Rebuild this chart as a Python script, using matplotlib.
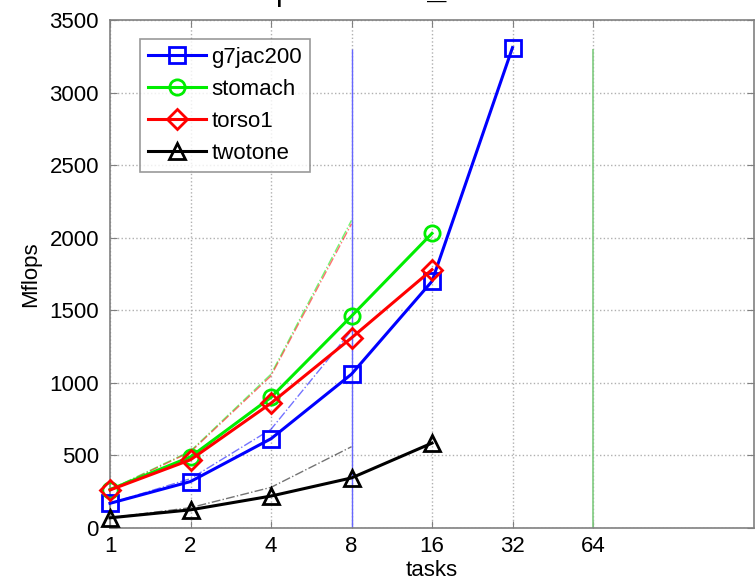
import matplotlib
matplotlib.use("Agg")
import matplotlib.pyplot as plt
from matplotlib.ticker import FixedLocator, FixedFormatter

plt.rcParams['font.family'] = ['Liberation Sans', 'DejaVu Sans']

# Measured performance (Mflops) against number of tasks
tasks = [1, 2, 4, 8, 16, 32]
g7jac200 = [170, 320, 615, 1060, 1700, 3310]
stomach = [265, 490, 900, 1460, 2030]
torso1 = [262, 470, 860, 1310, 1780]
twotone = [70, 125, 220, 345, 585]

# Ideal (linear) scaling drawn up to 8 tasks
ideal_tasks = [1, 2, 4, 8]

# Vertical reference markers
ref_tasks = [8, 64]
ref_top = 3300

xticks = [1, 2, 4, 8, 16, 32, 64]
yticks = [0, 500, 1000, 1500, 2000, 2500, 3000, 3500]

fig = plt.figure(figsize=(7.55, 5.82), dpi=100)
ax = fig.add_axes([0.1457, 0.0928, 0.853, 0.8728])

series = [
    ("g7jac200", g7jac200, "blue", "s"),
    ("stomach", stomach, "#00ee00", "o"),
    ("torso1", torso1, "red", "D"),
    ("twotone", twotone, "black", "^"),
]

# ideal scaling lines
for name, vals, col, mk in series:
    ideal = [vals[0] * t for t in ideal_tasks]
    ax.plot(ideal_tasks, ideal, linestyle='-.', color=col, lw=1.0, alpha=0.55, zorder=2)

ax.vlines(ref_tasks[0], 0, ref_top, color='#6666ff', lw=1.0, zorder=2)
ax.vlines(ref_tasks[1], 0, ref_top, color='#80cc80', lw=1.2, zorder=2)

handles = []
for name, vals, col, mk in series:
    ms = 11 if mk != 'D' else 10
    h, = ax.plot(tasks[:len(vals)], vals, color=col, lw=2.2, marker=mk,
                 markersize=ms, markerfacecolor='none', markeredgecolor=col,
                 markeredgewidth=2.0, label=name, zorder=3, clip_on=False)
    handles.append(h)

ax.set_xscale('log', base=2)
ax.set_xlim(1, 256)
ax.set_ylim(0, 3500)
ax.xaxis.set_major_locator(FixedLocator(xticks))
ax.xaxis.set_major_formatter(FixedFormatter([str(t) for t in xticks]))
ax.xaxis.set_minor_locator(FixedLocator([]))
ax.set_yticks(yticks)
ax.set_yticklabels([str(v) for v in yticks])

ax.grid(True, which='major', linestyle=':', color='#b0b0b0', lw=1.0)
ax.tick_params(axis='both', which='major', direction='in', length=5,
               color='#808080', labelsize=16, top=True, right=True,
               labelcolor='black')
ax.tick_params(axis='x', pad=6)
ax.tick_params(axis='y', pad=8)
for sp in ax.spines.values():
    sp.set_color('#808080')
    sp.set_linewidth(1.2)

ax.set_xlabel('tasks', fontsize=16, labelpad=2)
ax.set_ylabel('Mflops', fontsize=16, labelpad=6)

leg = ax.legend(handles=handles, loc='upper left', bbox_to_anchor=(0.047, 0.963),
                fontsize=16, frameon=True, fancybox=False, edgecolor='#808080',
                handlelength=2.6, handletextpad=0.25, labelspacing=0.5,
                borderpad=0.35, borderaxespad=0.0)
leg.get_frame().set_linewidth(1.2)

# cut-off title line above the axes
fig.text(0.375, 1.0, 'p', fontsize=22, ha='center', va='baseline', color='black')
fig.text(0.579, 0.9985, '\u2014', fontsize=14, ha='center', va='center', color='black')

fig.savefig('out.png', dpi=100)
